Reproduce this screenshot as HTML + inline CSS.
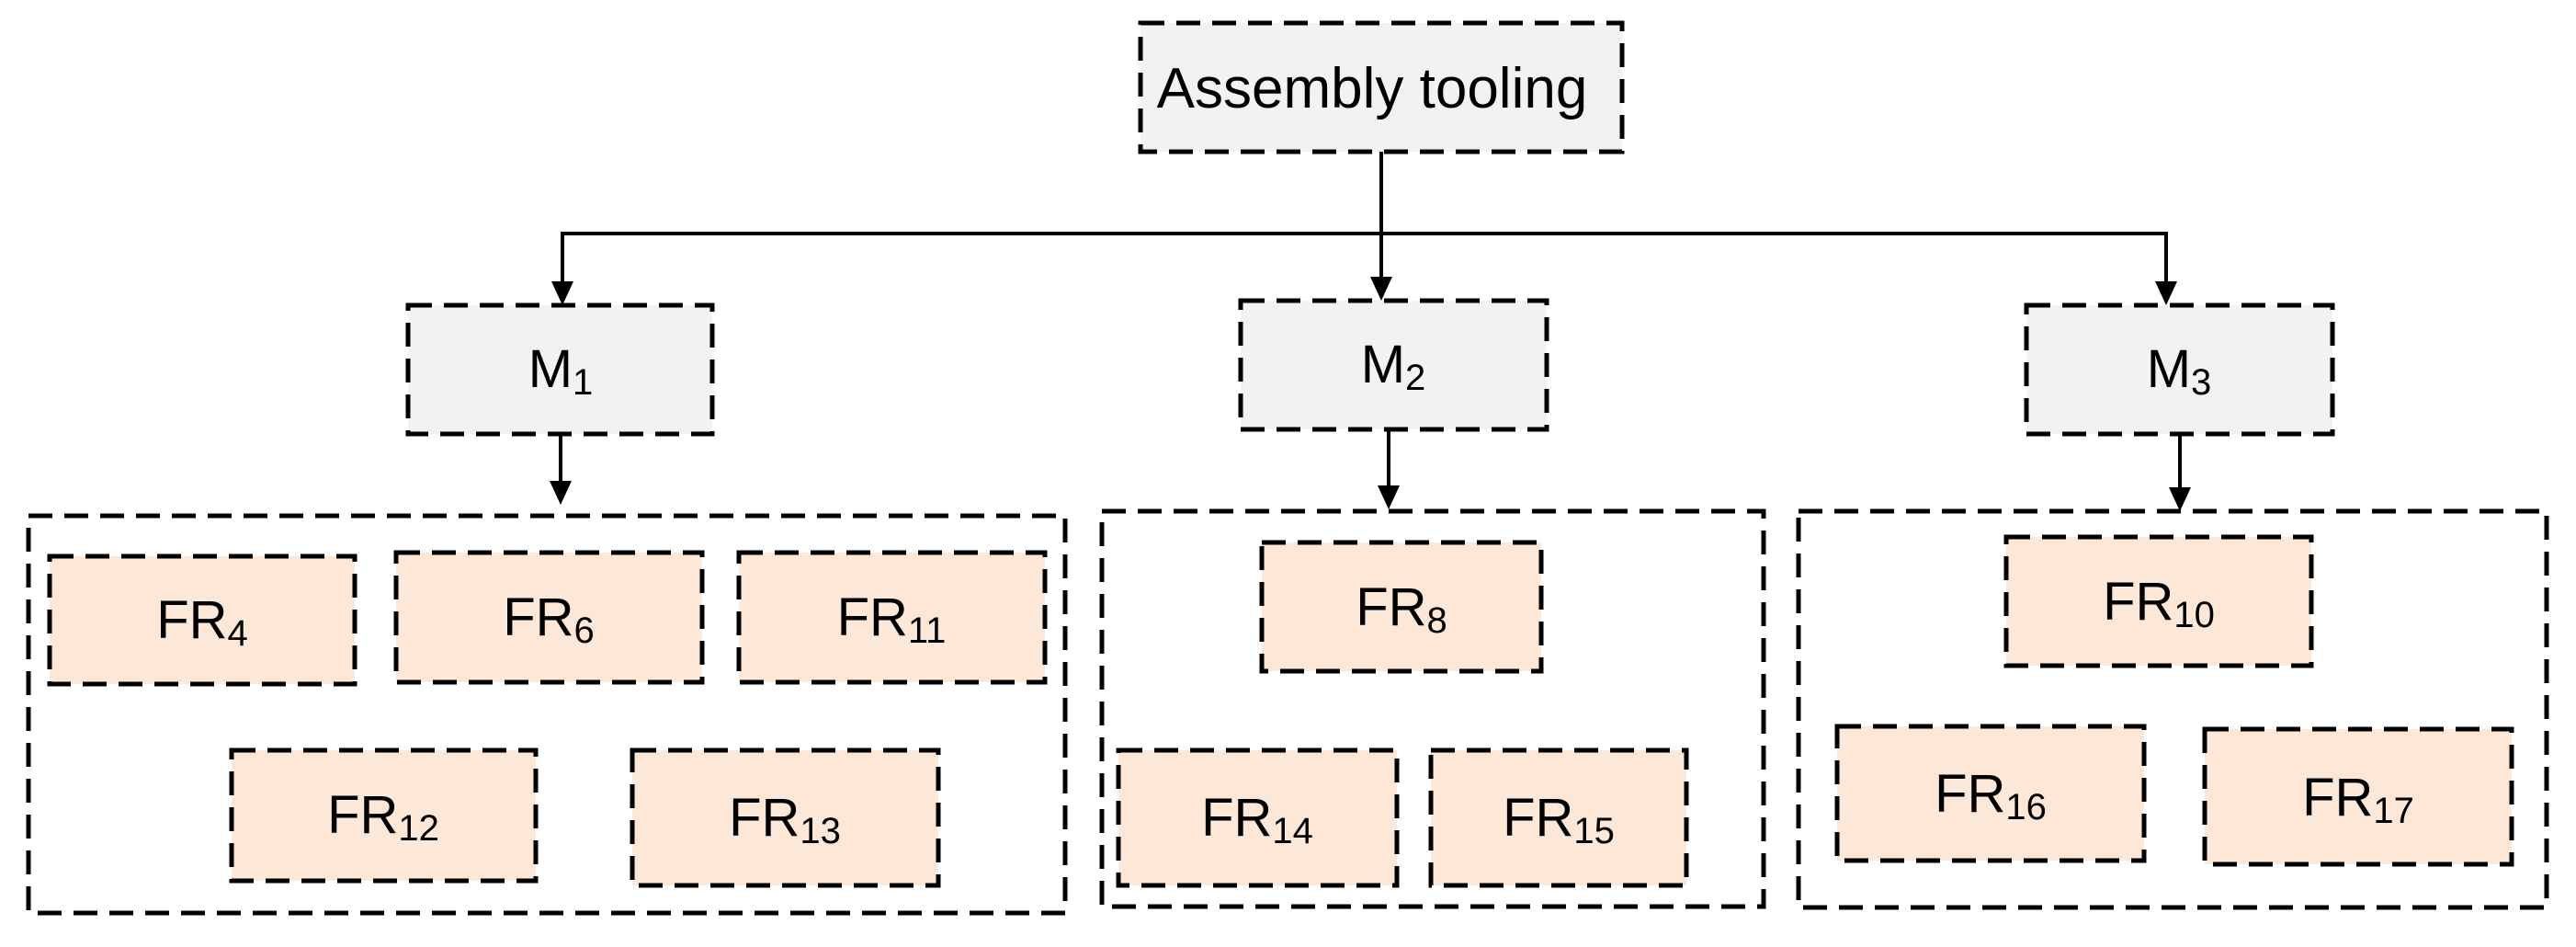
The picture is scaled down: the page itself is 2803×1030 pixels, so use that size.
<!DOCTYPE html>
<html><head><style>html,body{margin:0;padding:0;background:#fff}</style></head>
<body>
<svg width="2803" height="1025" xmlns="http://www.w3.org/2000/svg" font-family="'Liberation Sans', sans-serif">
<g stroke="#000" stroke-width="5" stroke-dasharray="26,13">
<rect x="1241" y="25" width="524" height="140" fill="#f2f2f2"/>
<rect x="444" y="332" width="331" height="140" fill="#f2f2f2"/>
<rect x="1350" y="327" width="333" height="140" fill="#f2f2f2"/>
<rect x="2205" y="332" width="333" height="140" fill="#f2f2f2"/>
<rect x="31" y="561" width="1128" height="432" fill="none"/>
<rect x="1199" y="556" width="720" height="430" fill="none"/>
<rect x="1957" y="556" width="814" height="431" fill="none"/>
<g fill="#fde7d6">
<rect x="54" y="605" width="332" height="139"/>
<rect x="431" y="601" width="333" height="141"/>
<rect x="804" y="601" width="333" height="141"/>
<rect x="252" y="816" width="331" height="142"/>
<rect x="688" y="816" width="333" height="147"/>
<rect x="1373" y="590" width="304" height="140"/>
<rect x="1217" y="816" width="303" height="147"/>
<rect x="1557" y="816" width="278" height="147"/>
<rect x="2183" y="584" width="332" height="140"/>
<rect x="1999" y="790" width="334" height="146"/>
<rect x="2399" y="793" width="334" height="147"/>
</g>
</g>
<g stroke="#000" stroke-width="4" fill="none">
<polyline points="612,310 612,254 2357,254 2357,310"/>
<line x1="1503" y1="165" x2="1503" y2="305"/>
<line x1="610" y1="472" x2="610" y2="528"/>
<line x1="1511" y1="467" x2="1511" y2="533"/>
<line x1="2372" y1="472" x2="2372" y2="535"/>
</g>
<g fill="#000">
<polygon points="600,306 624,306 612,332"/>
<polygon points="1491,301 1515,301 1503,327"/>
<polygon points="2345,306 2369,306 2357,332"/>
<polygon points="598,523 622,523 610,549"/>
<polygon points="1499,528 1523,528 1511,554"/>
<polygon points="2360,530 2384,530 2372,556"/>
</g>
<g font-size="58" fill="#000" text-anchor="middle">
<text x="1493" y="117" font-size="62">Assembly tooling</text>
<text x="610" y="421">M<tspan font-size="40" dy="8">1</tspan></text>
<text x="1516" y="416">M<tspan font-size="40" dy="8">2</tspan></text>
<text x="2371" y="421">M<tspan font-size="40" dy="8">3</tspan></text>
<text x="220" y="694">FR<tspan font-size="40" dy="8">4</tspan></text>
<text x="597" y="691">FR<tspan font-size="40" dy="8">6</tspan></text>
<text x="970" y="691">FR<tspan font-size="40" dy="8">11</tspan></text>
<text x="417" y="906">FR<tspan font-size="40" dy="8">12</tspan></text>
<text x="854" y="909">FR<tspan font-size="40" dy="8">13</tspan></text>
<text x="1525" y="680">FR<tspan font-size="40" dy="8">8</tspan></text>
<text x="1368" y="909">FR<tspan font-size="40" dy="8">14</tspan></text>
<text x="1696" y="909">FR<tspan font-size="40" dy="8">15</tspan></text>
<text x="2349" y="674">FR<tspan font-size="40" dy="8">10</tspan></text>
<text x="2166" y="883">FR<tspan font-size="40" dy="8">16</tspan></text>
<text x="2566" y="887">FR<tspan font-size="40" dy="8">17</tspan></text>
</g>
</svg>
</body></html>
